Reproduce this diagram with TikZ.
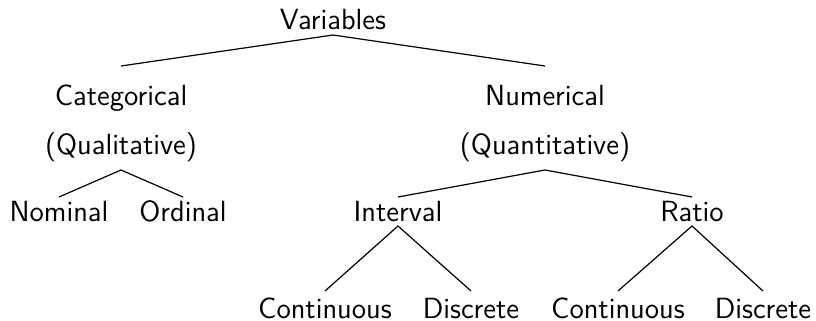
\documentclass[tikz,border=0pt]{standalone}
\begin{document}
\begin{tikzpicture}[x=0.5pt,y=-0.5pt,
  lbl/.style={anchor=base,inner sep=0pt,font=\fontsize{14.6}{17}\selectfont\sffamily},
  edge/.style={line width=0.6pt}]
\useasboundingbox (0,0) rectangle (816,321);
\node[lbl] (var) at (333,29) {Variables};
\node[lbl] (cat) at (121,105) {Categorical};
\node[lbl] (catq) at (121,155) {(Qualitative)};
\node[lbl] (num) at (545,105) {Numerical};
\node[lbl] (numq) at (545,155) {(Quantitative)};
\node[lbl] (nom) at (59,221) {Nominal};
\node[lbl] (ord) at (183,221) {Ordinal};
\node[lbl] (int) at (398,221) {Interval};
\node[lbl] (rat) at (692,221) {Ratio};
\node[lbl] (c1) at (325,318) {Continuous};
\node[lbl] (d1) at (471,318) {Discrete};
\node[lbl] (c2) at (618,318) {Continuous};
\node[lbl] (d2) at (763,318) {Discrete};
\draw[edge] ([yshift=19.5pt]cat.base) -- ([yshift=-3pt]var.base) -- ([yshift=19.5pt]num.base);
\draw[edge] ([yshift=12pt]nom.base) -- ([yshift=-7.5pt]catq.base) -- ([yshift=12pt]ord.base);
\draw[edge] ([yshift=12pt]int.base) -- ([yshift=-7.5pt]numq.base) -- ([yshift=12pt]rat.base);
\draw[edge] ([yshift=13.5pt]c1.base) -- ([yshift=-2.5pt]int.base) -- ([yshift=13.5pt]d1.base);
\draw[edge] ([yshift=13.5pt]c2.base) -- ([yshift=-2.5pt]rat.base) -- ([yshift=13.5pt]d2.base);
\end{tikzpicture}
\end{document}
